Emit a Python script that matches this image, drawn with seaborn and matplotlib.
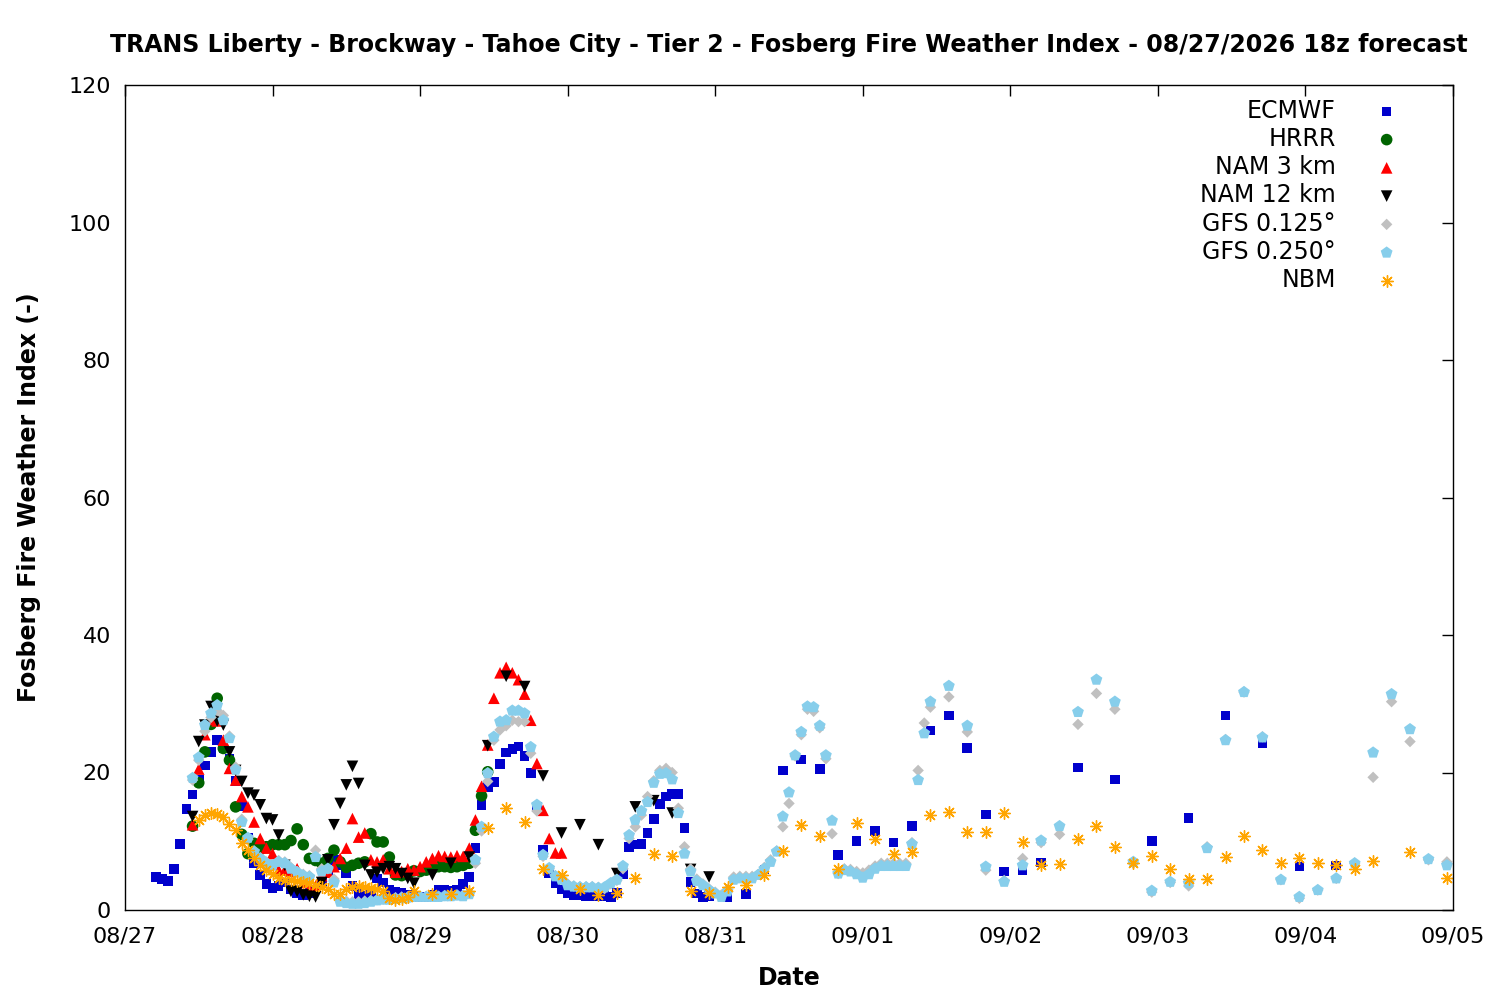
import numpy as np
import pandas as pd
import matplotlib
matplotlib.use("Agg")
import matplotlib.pyplot as plt
import matplotlib.dates as mdates
import seaborn as sns

# forecast times are hours after 08/27 00:00 (local time)
base_time = pd.Timestamp("2026-08-27 00:00")

ecmwf_hours = np.concatenate([np.arange(5, 96), np.arange(98, 150, 3), np.arange(155, 198, 6)])
ecmwf_vals = [
    4.8, 4.5, 4.2, 6.0, 9.6, 14.7, 16.8, 19.0, 21.0, 23.0,
    24.7, 23.5, 22.0, 18.8, 15.1, 10.5, 6.8, 5.1, 3.8, 3.2,
    3.5, 4.0, 3.0, 2.5, 2.2, 2.5, 3.0, 4.0, 5.5, 7.3,
    6.5, 5.3, 3.5, 2.3, 2.0, 2.3, 4.6, 4.0, 3.0, 2.7,
    2.5, 2.2, 2.0, 1.9, 1.9, 2.2, 2.9, 2.9, 2.8, 3.0,
    3.8, 4.8, 9.0, 15.3, 17.9, 18.6, 21.2, 22.9, 23.4, 23.8,
    22.4, 19.9, 15.0, 8.7, 5.4, 3.9, 3.0, 2.5, 2.2, 2.1,
    2.0, 2.0, 2.0, 2.0, 1.9, 2.5, 5.2, 9.2, 9.5, 9.6,
    11.2, 13.2, 15.4, 16.5, 16.9, 16.9, 11.9, 4.1, 2.4, 1.9, 2.0,
    1.9, 2.3, 5.9, 20.3, 21.9, 20.5, 8.0, 10.0, 11.5, 9.8,
    12.2, 26.1, 28.3, 23.6, 13.9, 5.6, 5.8, 6.9,
    20.7, 19.0, 10.0, 13.4, 28.3, 24.3, 6.3, 6.5,
]

hrrr_hours = np.arange(11, 60)
hrrr_vals = [
    12.2, 18.5, 23.0, 27.0, 30.8, 23.5, 21.8, 15.0, 11.0, 8.2,
    9.7, 8.8, 9.2, 9.5, 9.5, 9.5, 10.1, 11.8, 9.5, 7.5,
    7.2, 6.8, 7.5, 8.7, 7.0, 6.2, 6.5, 6.8, 7.0, 11.1,
    9.9, 9.9, 7.7, 5.1, 5.0, 5.1, 5.7, 5.6, 5.8, 6.0,
    6.3, 6.3, 6.2, 6.3, 6.5, 6.8, 11.6, 16.6, 20.1,
]

nam3_hours = np.arange(11, 72)
nam3_vals = [
    12.4, 20.5, 25.5, 27.7, 27.5, 24.7, 20.6, 18.9, 16.5, 15.0,
    12.8, 10.4, 9.0, 8.2, 5.8, 5.8, 5.6, 6.0, 4.0, 3.0,
    3.5, 5.0, 5.5, 6.3, 7.5, 9.0, 13.3, 10.6, 11.2, 7.3,
    7.0, 7.3, 6.0, 5.5, 5.6, 6.0, 5.8, 6.3, 7.0, 7.5,
    7.9, 7.8, 7.7, 7.9, 7.8, 9.0, 13.1, 18.0, 24.0, 30.8,
    34.5, 35.3, 34.5, 33.5, 31.4, 27.6, 21.3, 14.5, 10.4, 8.3, 8.3,
]

nam12_hours = np.concatenate([np.arange(11, 48), np.arange(50, 96, 3)])
nam12_vals = [
    13.6, 24.5, 26.9, 29.6, 27.5, 26.9, 23.0, 20.3, 18.7, 17.0,
    16.7, 15.3, 13.3, 13.1, 10.9, 6.5, 2.7, 2.7, 2.2, 2.0,
    1.9, 4.0, 7.3, 12.4, 15.5, 18.2, 20.9, 18.4, 6.5, 5.1,
    5.5, 6.0, 6.3, 6.0, 5.3, 4.6, 3.9,
    5.1, 6.8, 7.7, 23.9, 34.0, 32.5, 19.5, 11.2, 12.4, 9.5,
    5.3, 15.0, 15.9, 14.1, 5.9, 4.8,
]

gfs_hours = np.concatenate([np.arange(11, 132), np.arange(134, 216, 3)])
gfs125_vals = [
    18.9, 21.8, 26.0, 28.0, 29.0, 28.3, 25.3, 20.8, 13.2, 10.3,
    8.6, 7.6, 7.0, 6.6, 7.2, 7.0, 6.2, 5.6, 5.2, 5.0,
    8.7, 6.0, 6.0, 4.5, 1.5, 1.3, 1.2, 1.2, 1.3, 1.4,
    1.5, 1.6, 1.7, 1.8, 1.9, 1.9, 2.0, 2.0, 2.0, 2.0,
    2.0, 2.1, 2.1, 2.2, 2.2, 2.5, 6.8, 11.5, 18.7, 24.7,
    26.2, 26.8, 27.6, 27.4, 27.4, 22.8, 14.4, 7.8, 6.0, 5.0,
    4.5, 3.8, 3.5, 3.4, 3.4, 3.4, 3.3, 3.1, 3.8, 4.3,
    6.0, 10.4, 12.1, 13.8, 16.5, 18.8, 20.3, 20.6, 20.0, 14.8,
    9.2, 6.0, 4.5, 3.8, 3.1, 2.6, 2.2, 3.0, 4.8, 4.9,
    4.9, 4.9, 5.2, 6.2, 7.3, 8.6, 12.1, 15.5, 22.4, 25.5,
    29.2, 28.9, 26.5, 22.0, 11.1, 5.3, 6.0, 5.9, 5.6, 5.4,
    5.8, 6.4, 6.8, 6.8, 6.8, 6.8, 6.8, 9.8, 20.3, 27.2, 29.5,
    31.0, 25.9, 5.8, 4.3, 7.5, 9.8, 11.0, 27.0, 31.5, 29.2,
    6.8, 2.6, 4.0, 3.5, 9.2, 24.8, 31.7, 25.2, 4.4, 1.7,
    2.9, 4.6, 6.8, 19.3, 30.3, 24.5, 7.3, 7.0,
]
gfs250_vals = [
    19.2, 22.2, 26.9, 28.6, 29.8, 27.6, 25.0, 20.4, 12.8, 10.5,
    8.5, 7.5, 6.8, 6.5, 7.0, 6.8, 6.0, 5.5, 5.0, 4.8,
    7.7, 5.6, 6.0, 4.0, 1.2, 1.0, 0.9, 0.9, 1.0, 1.2,
    1.4, 1.5, 1.5, 1.6, 1.7, 1.8, 1.9, 1.9, 1.9, 1.9,
    1.9, 2.0, 2.0, 2.1, 2.0, 2.3, 7.3, 12.1, 19.9, 25.2,
    27.4, 27.6, 29.0, 29.0, 28.6, 23.7, 15.3, 8.0, 6.1, 4.9,
    4.4, 3.6, 3.4, 3.3, 3.3, 3.3, 3.2, 3.3, 3.9, 4.4,
    6.4, 10.9, 13.1, 14.4, 15.7, 18.5, 19.8, 19.9, 19.0, 14.1,
    8.2, 5.6, 4.2, 3.6, 2.9, 2.4, 1.9, 2.7, 4.4, 4.6,
    4.6, 4.6, 5.1, 6.0, 7.0, 8.5, 13.6, 17.1, 22.5, 25.9,
    29.6, 29.5, 26.8, 22.5, 13.0, 5.3, 5.8, 5.6, 5.2, 4.7,
    5.2, 6.0, 6.4, 6.4, 6.4, 6.4, 6.4, 9.6, 18.9, 25.7, 30.3,
    32.6, 26.8, 6.3, 4.1, 6.5, 10.1, 12.2, 28.8, 33.5, 30.3,
    7.0, 2.8, 4.1, 3.9, 9.0, 24.7, 31.7, 25.1, 4.4, 1.9,
    2.9, 4.6, 6.8, 22.9, 31.4, 26.3, 7.4, 6.5,
]

nbm_hours = np.concatenate([np.arange(12, 48), np.arange(50, 204, 3), [209, 215]])
nbm_vals = [
    13.1, 13.8, 14.1, 14.0, 13.5, 12.5, 11.6, 9.7, 8.7, 7.5,
    6.5, 5.8, 5.3, 4.6, 4.4, 4.4, 4.2, 4.1, 3.9, 3.6,
    3.4, 3.0, 2.4, 2.3, 3.1, 3.4, 3.5, 3.4, 3.2, 3.0,
    2.7, 1.7, 1.5, 1.6, 1.9, 2.7,
    2.3, 2.3, 2.8, 11.9, 14.8, 12.8, 6.0, 5.1, 3.1, 2.2,
    2.5, 4.7, 8.1, 7.9, 2.8, 2.5, 3.3, 3.6, 5.1, 8.6,
    12.4, 10.8, 5.9, 12.6, 10.4, 8.2, 8.4, 13.8, 14.2, 11.4,
    11.4, 14.1, 9.9, 6.5, 6.7, 10.3, 12.2, 9.2, 6.9, 7.9,
    6.0, 4.5, 4.5, 7.7, 10.8, 8.8, 6.8, 7.6, 6.8, 6.5,
    5.9, 7.1,
    8.5, 4.6,
]

# (label, hours, values, colour, marker, size) in gnuplot plotting order
asterisk = (8, 2, 0)
series = [
    ("ECMWF", ecmwf_hours, ecmwf_vals, "#0000cc", "s", 48),
    ("HRRR", hrrr_hours, hrrr_vals, "#006400", "o", 70),
    ("NAM 3 km", nam3_hours, nam3_vals, "#ff0000", "^", 70),
    ("NAM 12 km", nam12_hours, nam12_vals, "#000000", "v", 70),
    ("GFS 0.125°", gfs_hours, gfs125_vals, "#c0c0c0", "D", 34),
    ("GFS 0.250°", gfs_hours, gfs250_vals, "#87ceeb", "p", 80),
    ("NBM", nbm_hours, nbm_vals, "#ffa500", asterisk, 70),
]

sns.set_style("white")
plt.rcParams['font.family'] = ['DejaVu Sans']
plt.rcParams.update({"text.color": "black", "axes.labelcolor": "black",
                     "xtick.color": "black", "ytick.color": "black"})

fig = plt.figure(figsize=(15, 10), dpi=100)
ax = fig.add_axes([0.0833, 0.09, 0.8854, 0.825])

for label, hours, vals, color, marker, size in series:
    df = pd.DataFrame({
        "time": base_time + pd.to_timedelta(hours, unit="h"),
        "fwi": vals,
    })
    if marker == asterisk:
        sns.scatterplot(data=df, x="time", y="fwi", ax=ax, marker=marker, color=color,
                        s=size, linewidth=1.0, label=label)
    else:
        sns.scatterplot(data=df, x="time", y="fwi", ax=ax, marker=marker, color=color,
                        s=size, edgecolor="none", linewidth=0, label=label)

ax.set_xlim(base_time, base_time + pd.Timedelta(days=9))
ax.set_ylim(0, 120)
ax.set_yticks(np.arange(0, 121, 20))
ax.xaxis.set_major_locator(mdates.DayLocator())
ax.xaxis.set_major_formatter(mdates.DateFormatter("%m/%d"))

ax.tick_params(direction="in", top=True, right=True, length=8, width=1, labelsize=16)
ax.tick_params(axis="x", pad=12)
ax.tick_params(axis="y", pad=10)
for sp in ax.spines.values():
    sp.set_color("black")
    sp.set_linewidth(1)

ax.set_xlabel("Date", fontsize=17, fontweight="bold", labelpad=14)
ax.set_ylabel("Fosberg Fire Weather Index (-)", fontsize=17, fontweight="bold", labelpad=20)
ax.set_title("TRANS Liberty - Brockway - Tahoe City - Tier 2 - Fosberg Fire Weather Index - 08/27/2026 18z forecast",
             fontsize=17, fontweight="bold", pad=24)

ax.legend(loc="upper right", bbox_to_anchor=(0.966, 0.995), markerfirst=False, frameon=False,
          fontsize=17, labelspacing=0.18, handletextpad=1.66, borderaxespad=0, handlelength=1.0)

fig.savefig("out.png", dpi=100, facecolor="white")
